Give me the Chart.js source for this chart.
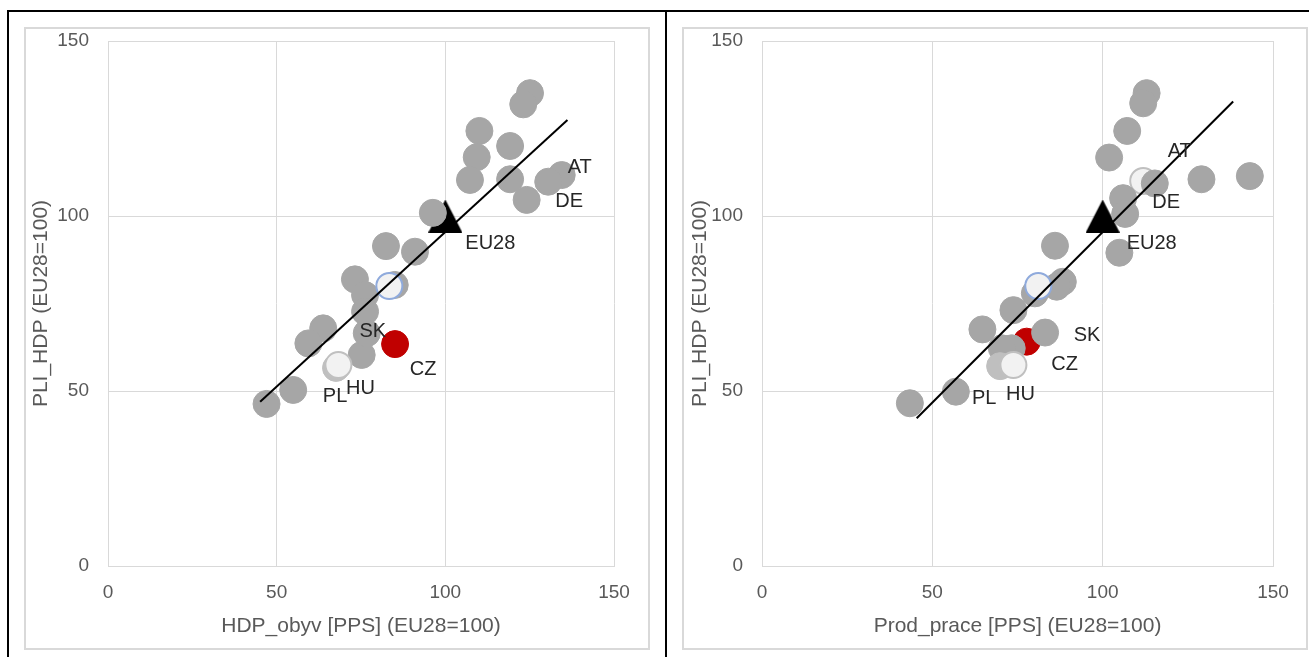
<!DOCTYPE html>
<html>
<head>
<meta charset="utf-8">
<script src="https://cdn.jsdelivr.net/npm/chart.js@4"></script>
<style>
  body { margin: 0; background: #fff; width: 1309px; height: 657px; overflow: hidden; position: relative; }
  .cell { position: absolute; top: 10px; height: 720px; border: 2px solid #000; box-sizing: border-box; }
  #cellL { left: 7px; width: 660px; }
  #cellR { left: 665px; width: 700px; }
  .frame { position: absolute; top: 27px; width: 626px; height: 623px; border: 2px solid #d9d9d9; box-sizing: border-box; }
  #frameL { left: 24px; }
  #frameR { left: 682px; }
  canvas { position: absolute; top: 29px; }
  #chartL { left: 26px; }
  #chartR { left: 684px; }
</style>
</head>
<body>
<div class="cell" id="cellL"></div>
<div class="cell" id="cellR"></div>
<div class="frame" id="frameL"></div>
<div class="frame" id="frameR"></div>
<canvas id="chartL" width="622" height="619"></canvas>
<canvas id="chartR" width="622" height="619"></canvas>
<script>
// levý graf: HDP na obyvatele vs. PLI
const hdpGrayX = [125.1, 123.1, 110.1, 119.2, 109.3, 107.3, 119.2, 124.1, 96.3, 82.4, 91.0, 73.2, 85.0, 76.2, 76.2, 63.8, 59.4, 75.2, 54.9, 47.0];
const hdpGrayY = [135.1, 131.9, 124.3, 120.0, 116.8, 110.3, 110.5, 104.6, 100.9, 91.4, 89.8, 81.9, 80.3, 77.4, 72.7, 67.9, 63.6, 60.3, 50.3, 46.3];
const hdpBlueX = [83.4];
const hdpBlueY = [80.0];
const hdpTrendX = [45.1, 136.2];
const hdpTrendY = [46.9, 127.4];

// pravý graf: produktivita práce vs. PLI
const prodGrayX = [112.9, 111.9, 107.2, 101.9, 129.0, 143.2, 106.0, 106.6, 86.0, 104.9, 88.3, 86.5, 80.1, 73.8, 64.7, 73.3, 70.4, 56.9, 43.4];
const prodGrayY = [135.1, 132.2, 124.3, 116.7, 110.5, 111.4, 105.1, 100.6, 91.5, 89.5, 81.2, 79.8, 77.9, 73.1, 67.6, 62.2, 62.2, 49.8, 46.5];
const prodBlueX = [81.1];
const prodBlueY = [80.0];
const prodTrendX = [45.4, 138.3];
const prodTrendY = [42.2, 132.7];

// zvýrazněné země
const codes = ["AT", "DE", "SK", "CZ", "PL", "HU", "EU28"];
const hdpCodeX = [134.5, 130.5, 76.7, 85.1, 67.6, 68.3, 100];
const hdpCodeY = [111.7, 109.8, 66.5, 63.4, 56.6, 57.4, 100];
const prodCodeX = [115.3, 111.9, 83.1, 77.7, 69.9, 73.8, 100];
const prodCodeY = [109.3, 110.0, 66.7, 64.1, 57.1, 57.4, 100];

const xTicks = [0, 50, 100, 150];
const yTicks = [0, 50, 100, 150];

// styly a posuny popisků
const hdpStyles = { AT: "gray", DE: "gray", SK: "gray", CZ: "red", PL: "light", HU: "white", EU28: "tri" };
const prodStyles = { AT: "gray", DE: "whiteBack", SK: "gray", CZ: "red", PL: "light", HU: "white", EU28: "tri" };
const hdpOffsets = { AT: [18, -8], DE: [21, 20], SK: [6, -2], CZ: [28, 25], PL: [-1, 29], HU: [22, 23], EU28: [45, 27] };
const prodOffsets = { AT: [25, -32], DE: [23, 21], SK: [42, 3], CZ: [38, 23], PL: [-16, 32], HU: [7, 29], EU28: [49, 27] };

const FONT = '"Liberation Sans", Arial, sans-serif';
const GRID = "#d9d9d9";
const TXT = "#595959";

const tri = document.createElement("canvas");
tri.width = 34;
tri.height = 33;
const tc = tri.getContext("2d");
tc.fillStyle = "#000";
tc.beginPath();
tc.moveTo(17, 0);
tc.lineTo(34, 33);
tc.lineTo(0, 33);
tc.closePath();
tc.fill();

const markers = {
  blue: { bg: "#f2f2f2", border: "#8faadc", bw: 2, r: 13 },
  white: { bg: "#f2f2f2", border: "#c0c0c0", bw: 2, r: 13 },
  light: { bg: "#bfbfbf", border: "#bfbfbf", bw: 1, r: 13.5 },
  gray: { bg: "#a6a6a6", border: "#a6a6a6", bw: 1, r: 13.5 },
  red: { bg: "#c00000", border: "#c00000", bw: 1, r: 13.5 },
  whiteBack: { bg: "#f2f2f2", border: "#c0c0c0", bw: 2, r: 13 },
};
const drawOrder = ["blue", "white", "light", "gray", "red", "whiteBack", "tri"];

function pts(xs, ys) {
  return xs.map((v, i) => ({ x: v, y: ys[i] }));
}

function buildDatasets(grayX, grayY, blueX, blueY, codeX, codeY, styles, trendX, trendY) {
  const groups = {};
  drawOrder.forEach((k) => (groups[k] = []));
  groups.gray = pts(grayX, grayY);
  groups.blue = pts(blueX, blueY);
  codes.forEach((c, i) => groups[styles[c]].push({ x: codeX[i], y: codeY[i] }));

  const sets = [{
    data: pts(trendX, trendY),
    showLine: true,
    borderColor: "#000",
    borderWidth: 2,
    pointRadius: 0,
  }];
  drawOrder.forEach((k) => {
    if (!groups[k].length) return;
    if (k === "tri") {
      sets.push({ data: groups[k], pointStyle: tri, pointRadius: 17 });
      return;
    }
    const m = markers[k];
    sets.push({
      data: groups[k],
      backgroundColor: m.bg,
      borderColor: m.border,
      borderWidth: m.bw,
      pointRadius: m.r,
      pointHoverRadius: m.r,
    });
  });
  return sets;
}

const labelPlugin = {
  id: "countryLabels",
  afterDatasetsDraw(chart) {
    const opt = chart.options.plugins.countryLabels;
    const { ctx } = chart;
    const sx = chart.scales.x, sy = chart.scales.y;
    ctx.save();
    ctx.font = "20px " + FONT;
    ctx.fillStyle = "#262626";
    ctx.textAlign = "center";
    ctx.textBaseline = "middle";
    codes.forEach((c, i) => {
      const off = opt.offsets[c];
      ctx.fillText(c, sx.getPixelForValue(opt.xs[i]) + off[0], sy.getPixelForValue(opt.ys[i]) + off[1]);
    });
    ctx.restore();
  },
};

// zrusi automaticke odsazeni kvuli popiskum os
function noPad(s) {
  s.paddingTop = 0;
  s.paddingBottom = 0;
  s.paddingLeft = 0;
  s.paddingRight = 0;
}

function makeChart(id, xTitle, datasets, codeX, codeY, offsets, yWidth, padRight, yTitlePad) {
  return new Chart(document.getElementById(id), {
    type: "scatter",
    data: { datasets: datasets },
    plugins: [labelPlugin],
    options: {
      responsive: false,
      animation: false,
      events: [],
      layout: { autoPadding: false, padding: { top: 12, right: padRight, bottom: 0, left: 0 } },
      plugins: {
        legend: { display: false },
        tooltip: { enabled: false },
        countryLabels: { xs: codeX, ys: codeY, offsets: offsets },
      },
      scales: {
        x: {
          type: "linear",
          min: 0,
          max: 150,
          afterBuildTicks: (s) => { s.ticks = xTicks.map((v) => ({ value: v })); },
          afterFit: (s) => { s.height = 82; noPad(s); },
          ticks: { padding: 15, color: TXT, font: { family: FONT, size: 19 } },
          grid: { color: GRID, drawTicks: false },
          border: { color: GRID },
          title: { display: true, text: xTitle, color: TXT, font: { family: FONT, size: 21 }, padding: { top: 0, bottom: 9 } },
        },
        y: {
          type: "linear",
          min: 0,
          max: 150,
          afterBuildTicks: (s) => { s.ticks = yTicks.map((v) => ({ value: v })); },
          afterFit: (s) => { s.width = yWidth; noPad(s); },
          ticks: { padding: 19, color: TXT, font: { family: FONT, size: 19 } },
          grid: { color: GRID, drawTicks: false },
          border: { color: GRID },
          title: { display: true, text: "PLI_HDP (EU28=100)", color: TXT, font: { family: FONT, size: 21 }, padding: { top: yTitlePad, bottom: 0 } },
        },
      },
    },
  });
}

makeChart("chartL", "HDP_obyv [PPS] (EU28=100)",
  buildDatasets(hdpGrayX, hdpGrayY, hdpBlueX, hdpBlueY, hdpCodeX, hdpCodeY, hdpStyles, hdpTrendX, hdpTrendY),
  hdpCodeX, hdpCodeY, hdpOffsets, 82, 34, 3);
makeChart("chartR", "Prod_prace [PPS] (EU28=100)",
  buildDatasets(prodGrayX, prodGrayY, prodBlueX, prodBlueY, prodCodeX, prodCodeY, prodStyles, prodTrendX, prodTrendY),
  prodCodeX, prodCodeY, prodOffsets, 78, 33, 4);
</script>
</body>
</html>
